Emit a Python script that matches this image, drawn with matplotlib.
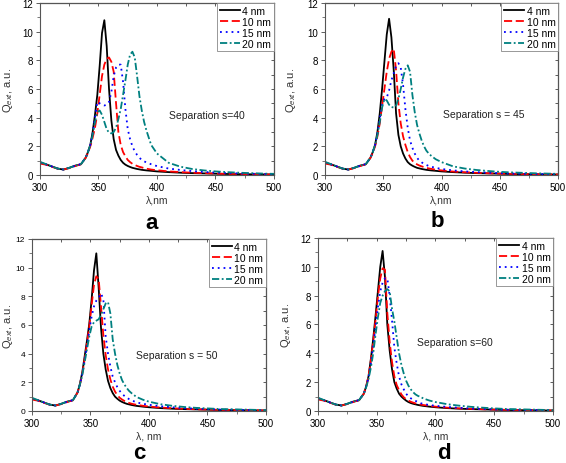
import matplotlib
matplotlib.use("Agg")
import matplotlib.pyplot as plt
from matplotlib.ticker import MultipleLocator

plt.rcParams['font.family'] = ['Liberation Sans', 'DejaVu Sans']
plt.rcParams['mathtext.fontset'] = 'custom'
plt.rcParams['mathtext.rm'] = 'Liberation Sans'
plt.rcParams['mathtext.it'] = 'Liberation Sans:italic'

# wavelength grid (nm)
lam = [300, 305, 310, 315, 320, 325, 330, 335, 339,
       341, 343, 345, 347, 349, 351, 353, 355, 357, 359, 361, 363, 365,
       367, 369, 371, 373, 375, 377, 379, 381, 383, 385, 387, 389, 391,
       395, 400, 410, 420, 430, 440, 450, 460, 470, 480, 490, 500]

labels = ["4 nm", "10 nm", "15 nm", "20 nm"]
panel_letters = ["a", "b", "c", "d"]
separations = ["Separation s=40", "Separation s = 45", "Separation s = 50", "Separation s=60"]
xlabels = ["λ,nm", "λ,nm", "λ, nm", "λ, nm"]

# ---- panel a (s=40)
a_4 = [0.85, 0.75, 0.6, 0.45, 0.38, 0.5, 0.65, 0.75, 1.2,
       1.6, 2.1, 3.0, 4.2, 5.6, 7.6, 9.9, 10.8, 9.0, 6.0, 3.8, 2.5, 1.75,
       1.35, 1.05, 0.85, 0.72, 0.63, 0.56, 0.5, 0.46, 0.42, 0.39, 0.36, 0.34, 0.32,
       0.29, 0.25, 0.2, 0.16, 0.13, 0.11, 0.09, 0.07, 0.06, 0.05, 0.04, 0.03]
a_10 = [0.8, 0.72, 0.58, 0.44, 0.38, 0.48, 0.62, 0.75, 1.2,
        1.55, 2.0, 2.6, 3.3, 4.3, 5.6, 6.9, 7.7, 8.1, 8.2, 7.9, 7.2, 5.0,
        3.0, 2.1, 1.6, 1.3, 1.05, 0.9, 0.78, 0.7, 0.63, 0.57, 0.53, 0.48, 0.44,
        0.38, 0.33, 0.25, 0.2, 0.16, 0.13, 0.1, 0.08, 0.07, 0.06, 0.05, 0.04]
a_15 = [0.88, 0.74, 0.6, 0.45, 0.38, 0.5, 0.64, 0.76, 1.2,
        1.6, 2.1, 2.9, 4.0, 5.1, 5.0, 4.9, 4.85, 4.9, 5.1, 5.8, 6.9, 7.5,
        7.7, 7.7, 6.5, 4.6, 3.2, 2.5, 2.0, 1.65, 1.4, 1.2, 1.05, 0.95, 0.88,
        0.75, 0.62, 0.45, 0.35, 0.27, 0.21, 0.17, 0.14, 0.11, 0.09, 0.07, 0.06]
a_20 = [0.92, 0.76, 0.6, 0.45, 0.38, 0.5, 0.65, 0.76, 1.2,
        1.6, 2.1, 2.8, 3.7, 4.4, 4.5, 4.2, 3.7, 3.2, 2.95, 2.9, 3.0, 3.3,
        3.9, 4.6, 5.6, 6.6, 7.7, 8.4, 8.6, 8.2, 6.9, 5.5, 4.5, 3.7, 3.1,
        2.1, 1.5, 0.85, 0.58, 0.42, 0.32, 0.25, 0.2, 0.16, 0.13, 0.1, 0.08]

# ---- panel b (s=45)
b_4 = [0.85, 0.75, 0.6, 0.45, 0.38, 0.5, 0.65, 0.75, 1.2,
       1.6, 2.1, 3.0, 4.3, 6.0, 7.9, 9.8, 10.9, 9.6, 7.3, 4.3, 2.8, 2.0,
       1.5, 1.15, 0.9, 0.75, 0.65, 0.57, 0.5, 0.46, 0.42, 0.39, 0.36, 0.34, 0.32,
       0.29, 0.25, 0.2, 0.16, 0.13, 0.11, 0.09, 0.07, 0.06, 0.05, 0.04, 0.03]
b_10 = [0.8, 0.72, 0.58, 0.44, 0.38, 0.48, 0.62, 0.75, 1.2,
        1.55, 2.0, 2.7, 3.6, 4.8, 6.0, 7.2, 8.1, 8.6, 8.8, 7.3, 5.0, 3.6,
        2.7, 2.1, 1.6, 1.25, 1.0, 0.85, 0.74, 0.66, 0.6, 0.55, 0.5, 0.46, 0.43,
        0.37, 0.32, 0.24, 0.19, 0.15, 0.12, 0.1, 0.08, 0.07, 0.06, 0.05, 0.04]
b_15 = [0.88, 0.74, 0.6, 0.45, 0.38, 0.5, 0.64, 0.76, 1.2,
        1.6, 2.1, 2.9, 3.9, 4.9, 5.3, 5.4, 5.9, 6.6, 7.1, 7.6, 7.8, 7.5,
        6.3, 4.6, 3.3, 2.4, 1.9, 1.5, 1.2, 1.0, 0.88, 0.78, 0.7, 0.63, 0.58,
        0.5, 0.42, 0.32, 0.25, 0.2, 0.16, 0.13, 0.1, 0.09, 0.07, 0.06, 0.05]
b_20 = [0.92, 0.76, 0.6, 0.45, 0.38, 0.5, 0.65, 0.76, 1.2,
        1.6, 2.1, 2.8, 3.7, 4.7, 5.3, 5.2, 4.9, 4.75, 4.7, 4.85, 5.3, 6.0,
        6.8, 7.4, 7.65, 7.2, 5.6, 4.4, 3.5, 2.9, 2.4, 2.0, 1.7, 1.5, 1.35,
        1.1, 0.9, 0.6, 0.45, 0.35, 0.28, 0.22, 0.18, 0.15, 0.12, 0.1, 0.08]

# ---- panel c (s=50)
c_4 = [0.85, 0.75, 0.6, 0.45, 0.38, 0.5, 0.65, 0.75, 1.3,
       1.9, 2.7, 3.8, 4.9, 6.1, 7.8, 9.8, 11.0, 8.6, 5.8, 4.0, 2.9, 2.1,
       1.6, 1.25, 1.0, 0.85, 0.72, 0.63, 0.56, 0.5, 0.46, 0.42, 0.39, 0.36, 0.34,
       0.3, 0.26, 0.2, 0.16, 0.13, 0.11, 0.09, 0.07, 0.06, 0.05, 0.04, 0.03]
c_10 = [0.8, 0.72, 0.58, 0.44, 0.38, 0.48, 0.62, 0.75, 1.3,
        1.85, 2.6, 3.6, 4.7, 5.9, 7.4, 8.8, 9.4, 9.2, 7.3, 5.3, 3.9, 2.9,
        2.2, 1.7, 1.35, 1.1, 0.92, 0.8, 0.7, 0.62, 0.56, 0.51, 0.47, 0.44, 0.41,
        0.36, 0.31, 0.24, 0.19, 0.15, 0.12, 0.1, 0.08, 0.07, 0.06, 0.05, 0.04]
c_15 = [0.88, 0.74, 0.6, 0.45, 0.38, 0.5, 0.64, 0.76, 1.3,
        1.85, 2.6, 3.5, 4.5, 5.6, 6.6, 7.3, 7.7, 7.9, 8.2, 7.8, 5.2, 4.0,
        3.1, 2.4, 2.0, 1.65, 1.4, 1.2, 1.05, 0.92, 0.83, 0.75, 0.68, 0.62, 0.57,
        0.5, 0.43, 0.33, 0.26, 0.2, 0.16, 0.13, 0.1, 0.09, 0.07, 0.06, 0.05]
c_20 = [0.92, 0.76, 0.6, 0.45, 0.38, 0.5, 0.65, 0.76, 1.3,
        1.85, 2.5, 3.4, 4.3, 5.2, 5.9, 6.2, 6.3, 6.4, 6.7, 7.1, 7.5, 7.6,
        6.8, 5.0, 4.0, 3.2, 2.6, 2.15, 1.85, 1.6, 1.4, 1.25, 1.12, 1.0, 0.92,
        0.78, 0.65, 0.47, 0.36, 0.28, 0.22, 0.18, 0.14, 0.12, 0.1, 0.08, 0.06]

# ---- panel d (s=60)
d_4 = [0.85, 0.75, 0.6, 0.45, 0.38, 0.5, 0.65, 0.75, 1.2,
       1.7, 2.4, 3.6, 5.0, 6.6, 8.3, 10.0, 11.1, 9.3, 6.0, 4.2, 2.9, 2.0,
       1.55, 1.2, 1.0, 0.85, 0.72, 0.62, 0.55, 0.5, 0.46, 0.42, 0.39, 0.36, 0.34,
       0.3, 0.26, 0.2, 0.16, 0.13, 0.11, 0.09, 0.07, 0.06, 0.05, 0.04, 0.03]
d_10 = [0.8, 0.72, 0.58, 0.44, 0.38, 0.48, 0.62, 0.75, 1.2,
        1.7, 2.4, 3.5, 4.8, 6.3, 7.9, 9.2, 9.9, 9.8, 6.8, 4.8, 3.4, 2.4,
        1.8, 1.45, 1.15, 0.95, 0.82, 0.72, 0.64, 0.58, 0.53, 0.49, 0.45, 0.42, 0.4,
        0.35, 0.3, 0.23, 0.18, 0.15, 0.12, 0.1, 0.08, 0.07, 0.06, 0.05, 0.04]
d_15 = [0.88, 0.74, 0.6, 0.45, 0.38, 0.5, 0.64, 0.76, 1.2,
        1.7, 2.3, 3.3, 4.5, 5.8, 7.2, 8.3, 8.9, 9.2, 9.2, 8.0, 6.3, 4.4,
        3.3, 2.4, 1.85, 1.5, 1.2, 1.0, 0.88, 0.78, 0.7, 0.63, 0.55, 0.5, 0.47,
        0.41, 0.36, 0.28, 0.22, 0.17, 0.14, 0.11, 0.09, 0.08, 0.07, 0.06, 0.05]
d_20 = [0.92, 0.76, 0.6, 0.45, 0.38, 0.5, 0.65, 0.76, 1.2,
        1.65, 2.2, 3.0, 4.0, 5.3, 6.5, 7.5, 8.0, 8.3, 8.45, 8.3, 7.1, 6.2,
        5.1, 4.0, 3.2, 2.6, 2.1, 1.75, 1.5, 1.3, 1.15, 1.05, 0.98, 0.9, 0.83,
        0.72, 0.62, 0.47, 0.37, 0.29, 0.23, 0.18, 0.14, 0.12, 0.1, 0.08, 0.06]

panels = [[a_4, a_10, a_15, a_20], [b_4, b_10, b_15, b_20],
          [c_4, c_10, c_15, c_20], [d_4, d_10, d_15, d_20]]

colors = ["black", "#ff0000", "#0000ff", "#008080"]
styles = ["-", (0, (4.5, 2)), (0, (1, 2.2)), (0, (4, 1.4, 1, 1.4))]

boxes = [[0.0707, 0.6207, 0.4133, 0.3707],
         [0.5742, 0.6207, 0.4117, 0.3707],
         [0.0565, 0.1121, 0.4134, 0.3707],
         [0.5618, 0.1121, 0.4152, 0.3729]]
ylab_x = [-0.108, -0.115, -0.074, -0.105]
sep_pos = [(410, 4.2), (401, 4.25), (389, 3.9), (384, 4.8)]
letter_pos = [(0.267, 0.506), (0.772, 0.51), (0.247, 0.011), (0.785, 0.011)]

fig = plt.figure(figsize=(5.66, 4.64), dpi=100)
for i in range(4):
    ax = fig.add_axes(boxes[i])
    for j in range(4):
        ax.plot(lam, panels[i][j], color=colors[j], linestyle=styles[j], lw=1.3, label=labels[j])
    ax.set_xlim(300, 500)
    ax.set_ylim(0, 12)
    ax.xaxis.set_major_locator(MultipleLocator(50))
    ax.xaxis.set_minor_locator(MultipleLocator(25))
    ax.yaxis.set_major_locator(MultipleLocator(2))
    ax.yaxis.set_minor_locator(MultipleLocator(1))
    ysize = 6 if i == 2 else 7
    ax.tick_params(axis='x', which='major', labelsize=7, length=3, width=0.6, color='#444444', pad=2)
    ax.tick_params(axis='y', which='major', labelsize=ysize, length=3, width=0.6, color='#444444', pad=2)
    ax.tick_params(which='minor', length=2, width=0.5, color='#444444')
    for s in ax.spines.values():
        s.set_color('#555555')
        s.set_linewidth(0.8)
    top = ax.secondary_xaxis('top')
    top.xaxis.set_major_locator(MultipleLocator(25))
    top.tick_params(direction='in', length=2.5, width=0.6, labeltop=False, color='#444444')
    right = ax.secondary_yaxis('right')
    right.yaxis.set_major_locator(MultipleLocator(1))
    right.tick_params(direction='in', length=2.5, width=0.6, labelright=False, color='#444444')
    ax.set_xlabel(xlabels[i], fontsize=7.5, color='#333333', labelpad=2)
    ax.set_ylabel(r'Q$_{ext}$, a.u.', fontsize=8, color='#333333')
    ax.yaxis.set_label_coords(ylab_x[i], 0.5)
    ax.text(sep_pos[i][0], sep_pos[i][1], separations[i], fontsize=7.5, va='center', color='#222222')
    leg = ax.legend(loc='upper right', fontsize=7.5, handlelength=2.0, handletextpad=0.2,
                    borderpad=0.25, labelspacing=0.1, borderaxespad=0.0, fancybox=False,
                    framealpha=1, edgecolor='#888888')
    leg.get_frame().set_linewidth(0.6)
    fig.text(letter_pos[i][0], letter_pos[i][1], panel_letters[i], fontsize=16,
             fontweight='bold', ha='center', va='baseline')

fig.savefig("out.png", dpi=100)
